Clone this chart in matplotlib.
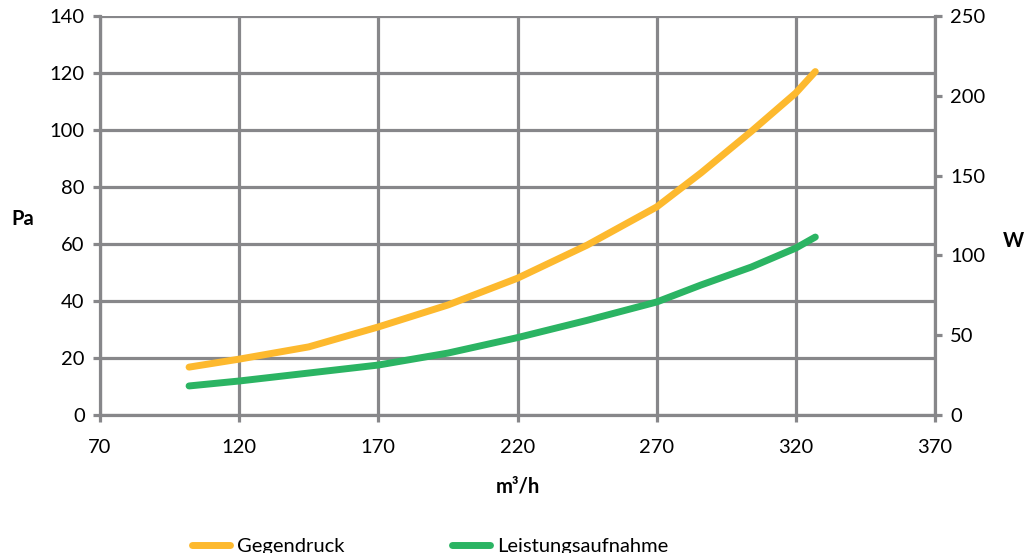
import matplotlib.pyplot as plt

plt.rcParams['font.family'] = ['Lato', 'DejaVu Sans']

# values
flow = [102, 120, 145, 170, 195, 220, 245, 270, 286, 304, 320, 327]
gegendruck = [16.8, 19.6, 23.9, 30.9, 38.6, 48.0, 59.6, 73.0, 85.0, 99.5, 113.0, 120.5]
leistung = [18.2, 21.3, 26.3, 31.3, 38.8, 48.5, 59.3, 70.8, 81.5, 92.7, 104.6, 111.5]

x_ticks = [70, 120, 170, 220, 270, 320, 370]
pa_ticks = [0, 20, 40, 60, 80, 100, 120, 140]
w_ticks = [0, 50, 100, 150, 200, 250]

grid_col = '#87878a'
orange = '#fdb92e'
green = '#2bb463'
fs = 14.5

fig = plt.figure(figsize=(10.24, 5.53), dpi=100)
ax = fig.add_axes([100 / 1024, 1 - 415 / 553, 835 / 1024, 399 / 553])
ax2 = ax.twinx()

ax.set_xlim(70, 370)
ax.set_ylim(0, 140)
ax2.set_ylim(0, 250)
ax.set_xticks(x_ticks)
ax.set_yticks(pa_ticks)
ax2.set_yticks(w_ticks)

ax.grid(True, color=grid_col, linewidth=2.3)
ax.set_axisbelow(True)
for a in (ax, ax2):
    for s in a.spines.values():
        s.set_visible(False)
    a.tick_params(length=5, width=2.3, color=grid_col, labelsize=fs, pad=6)
ax.tick_params(axis='x', pad=12)
for s in (ax.spines['left'], ax.spines['bottom'], ax2.spines['right']):
    s.set_visible(True)
    s.set_color(grid_col)
    s.set_linewidth(2.3)

l1, = ax.plot(flow, gegendruck, color=orange, linewidth=5, solid_capstyle='round')
l2, = ax2.plot(flow, leistung, color=green, linewidth=5, solid_capstyle='round')

ax.set_xlabel('m³/h', fontsize=fs, fontweight='bold', labelpad=15)
ax.set_ylabel('Pa', fontsize=fs, fontweight='bold', rotation=0)
ax.yaxis.set_label_coords(-0.092, 0.465)
ax2.set_ylabel('W', fontsize=fs, fontweight='bold', rotation=0)
ax2.yaxis.set_label_coords(1.094, 0.46)

fig.legend([l1, l2], ['Gegendruck', 'Leistungsaufnahme'], loc='center',
           bbox_to_anchor=(0.42, 0.012), ncol=2, frameon=False, fontsize=fs,
           handlelength=1.9, handletextpad=0.35, columnspacing=5.3)

fig.savefig('out.png', dpi=100)
